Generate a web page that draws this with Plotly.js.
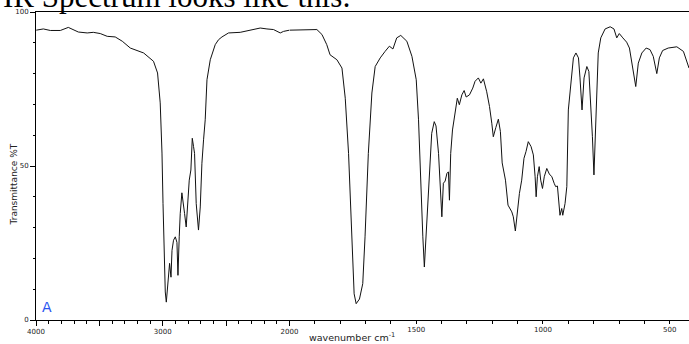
<!DOCTYPE html>
<html>
<head>
<meta charset="utf-8">
<script src="https://cdn.plot.ly/plotly-3.0.1.min.js"></script>
<style>html,body{margin:0;padding:0;background:#fff;overflow:hidden}#chart{width:689px;height:344px}</style>
</head>
<body>
<div id="chart"></div>
<script>
// IR spectrum
const wavenumber = [3998,3942,3887,3808,3745,3714,3666,3596,3548,3493,3438,3375,3319,3256,3151,3073,3041,3020,3006,2998,
2988,2980,2972,2962,2954,2946,2935,2927,2915,2901,2888,2880,2870,2862,2849,2836,2828,2815,2801,2791,
2778,2767,2757,2749,2736,2718,2704,2691,2678,2665,2651,2625,2586,2560,2533,2481,2389,2310,2231,2178,
2126,2073,2047,2000,
1971,1892,1872,1853,1840,1813,1793,1780,1767,1754,1745,1737,1724,1711,1702,1689,1675,1662,1642,1623,
1606,1592,1577,1561,1537,1517,1500,1491,1482,1474,1468,1458,1448,1439,1429,1422,1412,1406,1399,1393,
1386,1379,1373,1369,1364,1357,1351,1343,1338,1330,1320,1311,1303,1290,1277,1268,1255,1245,1235,1222,
1211,1202,1196,1186,1176,1168,1161,1148,1138,1123,1117,1109,1101,1093,1084,1075,1067,1058,1047,1038,
1031,1027,1022,1015,1009,1002,995,985,975,965,956,950,943,938,933,926,922,913,906,900,
890,880,870,860,854,846,838,827,819,810,805,799,793,788,782,772,755,735,720,709,
699,685,670,659,646,634,624,610,593,578,565,551,541,528,506,472,446,424];
const transmittance = [94.1,94.5,94.0,94.0,95.0,94.5,93.5,93.2,93.4,93.0,92.1,91.9,90.5,88.3,86.7,84.0,80.2,70.5,54.2,37.9,
20.5,9.1,5.8,10.7,17.2,18.4,13.9,22.6,25.9,27.0,25.2,14.5,27.0,34.6,41.3,37.9,34.6,30.2,37.8,45.4,
48.7,59.0,56.3,54.1,37.8,29.2,36.7,50.9,58.5,65.0,78.0,84.5,89.4,91.0,91.9,93.2,93.4,94.0,94.8,94.5,
94.3,93.2,93.7,94.1,
94.1,94.3,92.7,89.4,86.1,84.5,81.8,72.0,54.1,27.0,8.5,5.3,6.8,11.8,27.0,54.1,73.7,82.3,85.1,87.2,
88.9,88.0,91.6,92.4,90.5,85.6,78.0,65.0,43.3,27.0,17.2,32.4,48.7,60.6,64.4,63.0,54.1,45.4,33.5,44.4,
45.1,47.6,48.1,38.9,54.1,61.7,65.0,70.9,72.0,69.9,73.1,74.5,72.4,73.1,75.3,77.5,78.6,76.9,78.3,74.1,
69.3,63.9,59.5,62.5,65.2,61.2,51.0,45.4,37.3,35.1,33.5,28.9,35.7,41.1,45.4,52.5,54.7,57.9,56.3,53.6,
46.5,40.0,46.5,49.8,45.4,42.7,46.5,49.2,47.4,46.5,44.4,43.3,43.5,37.8,34.0,36.2,34.0,37.8,43.3,68.2,
78.0,85.1,86.7,85.1,78.6,68.2,78.6,82.3,80.7,68.2,59.5,47.1,62.8,72.6,86.7,91.6,94.5,95.2,94.5,91.6,
93.0,91.6,90.2,88.3,82.3,75.8,83.4,86.7,88.3,87.8,85.6,80.0,85.1,87.5,88.3,88.7,87.2,81.8];

const highTicks = [4000, 3500, 3000, 2500, 2000];
const highTickText = ['4000', ' ', '3000', ' ', '2000'];
const lowTicks = [1500, 1000, 500];
const lowTickText = ['1500', '1000', '500'];
const yTicks = [0, 50, 100];
const yTickText = ['0', '50', '100'];

const splitAt = 2000;
const hiX = [], hiY = [], loX = [], loY = [];
wavenumber.forEach((w, i) => {
  if (w >= splitAt) { hiX.push(w); hiY.push(transmittance[i]); }
  if (w <= splitAt) { loX.push(w); loY.push(transmittance[i]); }
});

const lineStyle = {color: '#111', width: 1};
const traces = [
  {x: hiX, y: hiY, xaxis: 'x', yaxis: 'y', mode: 'lines', line: lineStyle, hoverinfo: 'skip'},
  {x: loX, y: loY, xaxis: 'x2', yaxis: 'y', mode: 'lines', line: lineStyle, hoverinfo: 'skip'}
];

const tickFont = {family: 'DejaVu Sans', size: 7, color: '#222'};
const split = 0.3882;
const axBase = {
  showline: true, linecolor: '#000', linewidth: 1, mirror: true,
  showgrid: false, zeroline: false, ticks: 'outside', tickcolor: '#000',
  tickwidth: 1, tickfont: tickFont, anchor: 'y', fixedrange: true
};
const layout = {
  width: 689, height: 344,
  margin: {l: 36, r: 0, t: 12, b: 24, pad: 0},
  paper_bgcolor: '#fff', plot_bgcolor: '#fff',
  showlegend: false,
  xaxis: Object.assign({}, axBase, {
    domain: [0, split], range: [4000, 2000],
    tickmode: 'array', tickvals: highTicks, ticktext: highTickText, ticklen: 5,
    minor: {tickmode: 'linear', tick0: 0, dtick: 100, ticks: 'outside', ticklen: 3, tickcolor: '#000', showgrid: false}
  }),
  xaxis2: Object.assign({}, axBase, {
    domain: [split, 1], range: [2000, 424],
    tickmode: 'array', tickvals: lowTicks, ticktext: lowTickText, ticklen: 3,
    minor: {tickmode: 'linear', tick0: 0, dtick: 100, ticks: 'outside', ticklen: 3, tickcolor: '#000', showgrid: false}
  }),
  yaxis: {
    range: [0, 100], showline: true, linecolor: '#000', linewidth: 1, mirror: false,
    showgrid: false, zeroline: false, ticks: 'outside', ticklen: 5, tickcolor: '#000',
    tickmode: 'array', tickvals: yTicks, ticktext: yTickText, tickfont: tickFont, fixedrange: true,
    minor: {tickmode: 'linear', tick0: 0, dtick: 10, ticks: 'outside', ticklen: 2, tickcolor: '#000', showgrid: false}
  },
  annotations: [
    {text: 'IR Spectrum looks like this:', xref: 'paper', yref: 'paper', x: -0.0536, y: 1.049,
     xanchor: 'left', yanchor: 'middle', showarrow: false,
     font: {family: 'Liberation Serif', size: 31, color: '#000'}},
    {text: 'wavenumber cm<sup>-1</sup>', xref: 'paper', yref: 'paper', x: 0.484, y: -0.054,
     xanchor: 'center', yanchor: 'middle', showarrow: false,
     font: {family: 'DejaVu Sans', size: 9.5, color: '#222'}},
    {text: 'Transmittance %T', xref: 'paper', yref: 'paper', x: -0.0332, y: 0.441, textangle: -90,
     xanchor: 'center', yanchor: 'middle', showarrow: false,
     font: {family: 'DejaVu Sans', size: 9, color: '#222'}},
    {text: 'A', xref: 'paper', yref: 'paper', x: 0.0168, y: 0.042,
     xanchor: 'center', yanchor: 'middle', showarrow: false,
     font: {family: 'DejaVu Sans', size: 14, color: '#2a55f0'}}
  ]
};
Plotly.newPlot('chart', traces, layout, {staticPlot: true, displayModeBar: false});
</script>
</body>
</html>
